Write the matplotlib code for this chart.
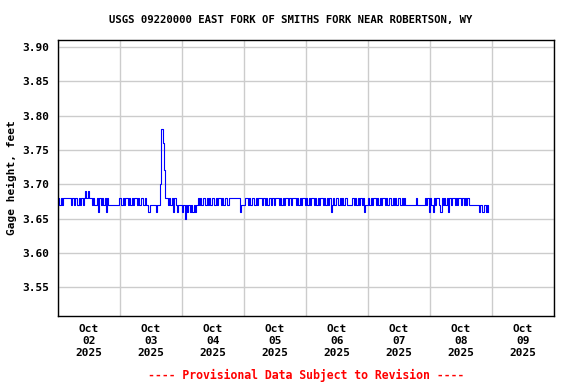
import numpy as np
import pandas as pd
import matplotlib
matplotlib.use("Agg")
import matplotlib.pyplot as plt

# Gage height readings, 30-minute steps, in hundredths of a foot
oct02 = [68, 67, 68, 67, 68, 68, 68, 68, 68, 68, 67, 68, 67, 68, 68, 67,
         68, 67, 68, 67, 68, 69, 68, 69, 68, 68, 67, 68, 67, 67, 68, 66,
         68, 67, 68, 67, 68, 66, 68, 67, 67, 67, 67, 67, 67, 67, 67, 68]
oct03 = [68, 67, 68, 67, 68, 68, 67, 68, 67, 68, 67, 68, 68, 67, 68, 67,
         68, 68, 67, 68, 67, 67, 66, 67, 67, 67, 67, 67, 66, 67, 67, 70,
         78, 76, 72, 68, 68, 67, 68, 67, 68, 66, 68, 67, 66, 67, 67, 67]
oct04 = [66, 67, 65, 67, 66, 67, 66, 67, 66, 67, 66, 67, 68, 67, 68, 67,
         68, 68, 67, 68, 67, 68, 67, 68, 68, 67, 68, 67, 68, 68, 67, 68,
         67, 68, 68, 67, 68, 68, 68, 68, 68, 68, 68, 68, 68, 66, 67, 67]
oct05 = [67, 68, 68, 67, 68, 67, 68, 68, 67, 68, 67, 68, 68, 68, 67, 68,
         67, 68, 67, 68, 68, 67, 68, 67, 68, 68, 68, 67, 68, 67, 68, 67,
         68, 68, 67, 68, 67, 68, 68, 68, 67, 68, 67, 68, 67, 68, 68, 67]
oct06 = [68, 67, 68, 67, 68, 68, 67, 68, 67, 68, 67, 68, 68, 67, 68, 67,
         68, 67, 68, 66, 67, 68, 67, 68, 68, 67, 68, 67, 68, 67, 68, 68,
         67, 67, 67, 67, 68, 67, 68, 67, 68, 67, 68, 67, 68, 66, 67, 67]
oct07 = [68, 67, 68, 67, 68, 68, 67, 68, 67, 68, 67, 68, 68, 67, 68, 67,
         68, 68, 67, 68, 67, 68, 67, 68, 68, 67, 68, 67, 68, 67, 67, 67,
         67, 67, 67, 67, 67, 68, 67, 67, 67, 67, 67, 67, 68, 67, 68, 66]
oct08 = [68, 67, 66, 68, 67, 68, 68, 67, 66, 68, 67, 68, 67, 68, 66, 68,
         67, 68, 68, 67, 68, 67, 68, 68, 67, 68, 67, 68, 67, 68, 67, 67,
         67, 67, 67, 67, 67, 67, 66, 67, 66, 66, 67, 66, 67, 66]

values = np.array(oct02 + oct03 + oct04 + oct05 + oct06 + oct07 + oct08) / 100 + 3.0
times = pd.date_range("2025-10-02 00:00", periods=len(values), freq="30min")

day_starts = pd.date_range("2025-10-02", "2025-10-10", freq="D")
label_pos = pd.date_range("2025-10-02 12:00", periods=8, freq="D")
day_labels = [f"Oct\n{d.day:02d}\n2025" for d in label_pos]
y_ticks = [3.55, 3.60, 3.65, 3.70, 3.75, 3.80, 3.85, 3.90]

font = {"family": "DejaVu Sans Mono", "weight": "bold", "size": 8}

fig = plt.figure(figsize=(5.76, 3.84), dpi=100)
ax = fig.add_axes([0.1007, 0.177, 0.8611, 0.7188])

ax.plot(times, values, color="#0000ff", linewidth=0.8, drawstyle="steps-post")

ax.set_xlim(day_starts[0], day_starts[-1])
ax.set_ylim(3.508, 3.910)

ax.set_xticks(day_starts)
ax.set_xticklabels([])
ax.set_xticks(label_pos, minor=True)
ax.set_xticklabels(day_labels, minor=True, **font)
ax.tick_params(axis="x", which="both", length=0, pad=6)

ax.set_yticks(y_ticks)
ax.set_yticklabels([f"{v:.2f}" for v in y_ticks], **font)
ax.tick_params(axis="y", length=0, pad=6)

ax.grid(True, which="major", color="#cccccc", linewidth=1)
ax.set_axisbelow(True)
for s in ax.spines.values():
    s.set_linewidth(1)
    s.set_color("black")

ax.set_ylabel("Gage height, feet", labelpad=4, **font)

fig.text(0.505, 0.948, "USGS 09220000 EAST FORK OF SMITHS FORK NEAR ROBERTSON, WY",
         ha="center", va="center", family="DejaVu Sans Mono", weight="bold", size=7.7)
fig.text(0.531, 0.023, "---- Provisional Data Subject to Revision ----",
         ha="center", va="center", color="red",
         family="DejaVu Sans Mono", weight="bold", size=8.3)

fig.savefig("out.png", dpi=100)
